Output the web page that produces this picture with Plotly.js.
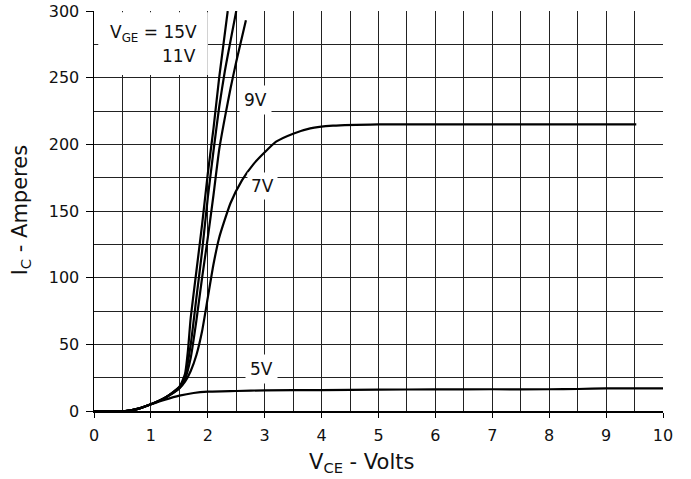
<!DOCTYPE html>
<html>
<head>
<meta charset="utf-8">
<script src="https://cdn.plot.ly/plotly-3.0.1.min.js"></script>
<style>html,body{margin:0;padding:0;background:#fff;}#chart{width:691px;height:479px;}</style>
</head>
<body>
<div id="chart"></div>
<script>
// V_CE (volts) and I_C (amperes)
const vce15 = [0, 0.55, 0.8, 1.0, 1.25, 1.5, 1.6, 1.65, 1.7, 1.8, 1.9, 2.0, 2.1, 2.2, 2.35];
const ic15  = [0, 0, 2, 5, 10, 18, 28, 45, 70, 105, 140, 178, 212, 250, 300];

const vce11 = [0, 0.55, 0.8, 1.0, 1.25, 1.5, 1.6, 1.7, 1.8, 1.9, 2.0, 2.1, 2.2, 2.3, 2.5];
const ic11  = [0, 0, 2, 5, 10, 18, 26, 50, 85, 120, 160, 195, 228, 255, 300];

const vce9 = [0, 0.55, 0.8, 1.0, 1.25, 1.5, 1.6, 1.7, 1.8, 1.9, 2.0, 2.1, 2.2, 2.3, 2.4, 2.5, 2.67];
const ic9  = [0, 0, 2, 5, 10, 17, 24, 40, 68, 100, 130, 162, 196, 220, 242, 262, 293];

const vce7 = [0, 0.55, 0.8, 1.0, 1.25, 1.5, 1.6, 1.7, 1.8, 1.9, 2.0, 2.1, 2.2, 2.4, 2.6, 2.8, 3.0, 3.2, 3.5, 3.8, 4.2, 5, 6, 7, 8, 9, 9.53];
const ic7  = [0, 0, 2, 5, 10, 17, 22, 30, 42, 60, 85, 110, 130, 156, 173, 185, 194, 202, 208, 212, 214, 215, 215, 215, 215, 215, 215];

const vce5 = [0, 0.55, 0.8, 1.0, 1.25, 1.5, 1.75, 2.0, 2.5, 3, 4, 5, 6, 7, 8, 8.5, 9, 10];
const ic5  = [0, 0, 2, 5, 8.5, 11.5, 13.5, 14.5, 15, 15.5, 15.7, 16, 16.2, 16.3, 16.3, 16.5, 17, 17];

const xTicks = [0, 1, 2, 3, 4, 5, 6, 7, 8, 9, 10];
const yTicks = [0, 50, 100, 150, 200, 250, 300];

const series = [[vce15, ic15], [vce11, ic11], [vce9, ic9], [vce7, ic7], [vce5, ic5]];
const traces = series.map(s => ({
  x: s[0], y: s[1], type: 'scatter', mode: 'lines',
  line: {color: '#000', width: 2.2, shape: 'spline', smoothing: 0.5},
  hoverinfo: 'skip', showlegend: false
}));

const fam = 'DejaVu Sans, Verdana, sans-serif';
const lblFont = {family: fam, size: 17, color: '#111'};
const titleFont = {family: fam, size: 21, color: '#111'};

const layout = {
  width: 691, height: 479,
  margin: {l: 94, r: 28, t: 11, b: 68},
  paper_bgcolor: '#fff', plot_bgcolor: '#fff',
  font: {family: fam, color: '#111'},
  showlegend: false,
  xaxis: {
    range: [0, 10], tickvals: xTicks, ticktext: xTicks.map(String),
    ticks: 'outside', ticklen: 5, tickcolor: '#000', tickwidth: 1,
    ticklabelstandoff: 4,
    showgrid: true, gridcolor: '#222', gridwidth: 1,
    minor: {dtick: 0.5, tick0: 0, showgrid: true, gridcolor: '#222', gridwidth: 1, ticks: ''},
    showline: true, linecolor: '#000', linewidth: 1.5,
    zeroline: false, tickfont: {size: 16, family: fam, color: '#111'}
  },
  yaxis: {
    range: [0, 300], tickvals: yTicks, ticktext: yTicks.map(String),
    ticks: 'outside', ticklen: 7, tickcolor: '#000', tickwidth: 1,
    ticklabelstandoff: 3,
    showgrid: true, gridcolor: '#222', gridwidth: 1,
    minor: {dtick: 25, tick0: 0, showgrid: true, gridcolor: '#222', gridwidth: 1, ticks: ''},
    showline: true, linecolor: '#000', linewidth: 1.5,
    zeroline: false, tickfont: {size: 16, family: fam, color: '#111'}
  },
  shapes: [
    {type: 'rect', layer: 'above', xref: 'paper', yref: 'paper',
     x0: 0.0075, x1: 0.2, y0: 0.84, y1: 0.997, fillcolor: '#fff', line: {width: 0}}
  ],
  annotations: [
    {x: 0.185, y: 0.945, xref: 'paper', yref: 'paper', xanchor: 'right', yanchor: 'middle',
     text: 'V<sub>GE</sub> = 15V', showarrow: false, font: lblFont},
    {x: 0.183, y: 0.888, xref: 'paper', yref: 'paper', xanchor: 'right', yanchor: 'middle',
     text: '11V', showarrow: false, font: lblFont},
    {x: 2.83, y: 233, xref: 'x', yref: 'y', text: '9V', showarrow: false, font: lblFont,
     bgcolor: '#fff', borderpad: 4},
    {x: 2.97, y: 169, xref: 'x', yref: 'y', text: '7V', showarrow: false, font: lblFont,
     bgcolor: '#fff', borderpad: 3},
    {x: 2.95, y: 31.5, xref: 'x', yref: 'y', text: '5V', showarrow: false, font: lblFont,
     bgcolor: '#fff', borderpad: 4},
    {x: 0.471, y: -0.13, xref: 'paper', yref: 'paper', xanchor: 'center', yanchor: 'middle',
     text: 'V<sub>CE</sub> - Volts', showarrow: false, font: titleFont},
    {x: -0.128, y: 0.502, xref: 'paper', yref: 'paper', xanchor: 'center', yanchor: 'middle',
     textangle: -90, text: 'I<sub>C</sub> - Amperes', showarrow: false, font: titleFont}
  ]
};

Plotly.newPlot('chart', traces, layout, {staticPlot: true, displayModeBar: false});
</script>
</body>
</html>
